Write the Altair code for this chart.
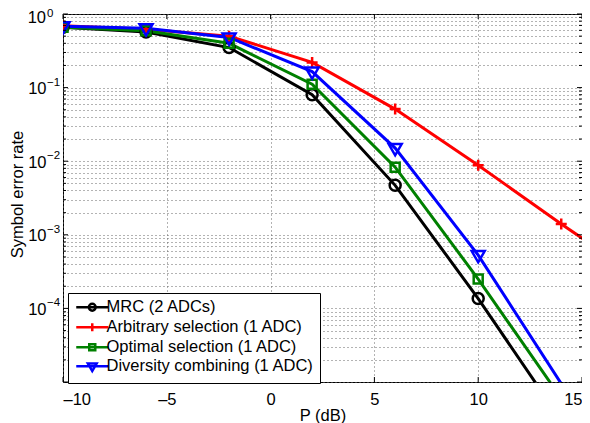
import altair as alt
import pandas as pd

# ---- data ----
P = [-10, -6, -2, 2, 6, 10, 14, 18]
series_names = ["MRC (2 ADCs)", "Arbitrary selection (1 ADC)",
                "Optimal selection (1 ADC)", "Diversity combining (1 ADC)"]
mrc = [0.66, 0.57, 0.35, 0.080, 0.0047, 1.36e-4, 3.0e-6, None]
arb = [0.69, 0.62, 0.50, 0.22, 0.051, 0.0088, 0.0014, 2.4e-4]
opt = [0.66, 0.59, 0.40, 0.111, 0.0083, 2.5e-4, 6.0e-6, None]
div = [0.68, 0.64, 0.48, 0.165, 0.0151, 5.3e-4, 9.5e-6, None]
colors = ["#000000", "#ff0000", "#008000", "#0000ff"]

x_ticks = [-10, -5, 0, 5, 10, 15]
y_decades = [1, 0.1, 0.01, 0.001, 0.0001, 0.00001]
y_inner_decades = [0.1, 0.01, 0.001, 0.0001]
y_inner_exponents = ["\u22121", "\u22122", "\u22123", "\u22124"]
y_top = [1]
y_top_exponent = ["0"]
y_minor = [k * 10.0 ** e for e in range(-5, 0) for k in range(2, 10)]

FONT = "Liberation Sans"
FS = 16.5
W, H = 519, 368

rows = []
for name, vals in zip(series_names, [mrc, arb, opt, div]):
    for p, v in zip(P, vals):
        if v is not None:
            rows.append({"P": p, "SER": v, "series": name})
df = pd.DataFrame(rows)

# marker paths (unit square coordinates)
circ = "M-1.1,0A1.1,1.1,0,1,1,1.1,0A1.1,1.1,0,1,1,-1.1,0Z"
plus = "M-1.1,0H1.1M0,-1.1V1.1"
sq = "M-0.9,-0.9H0.9V0.9H-0.9Z"
tri = "M-1.3,-0.8H1.3L0,1.45Z"
chart_shapes = [circ, plus, sq, tri]
legend_shapes = [
    "M-4,0H4M-0.85,0A0.85,0.85,0,1,1,0.85,0A0.85,0.85,0,1,1,-0.85,0Z",
    "M-4,0H4M0,-1V1",
    "M-4,0H4M-0.75,-0.75H0.75V0.75H-0.75Z",
    "M-4,0H4M-1.1,-0.7H1.1L0,1.2Z",
]

xscale = alt.Scale(domain=[-10, 15], nice=False, zero=False)
yscale = alt.Scale(type="log", domain=[1e-5, 1], nice=False)
cscale = alt.Scale(domain=series_names, range=colors)

x_enc = alt.X("P:Q", scale=xscale, axis=alt.Axis(
    values=x_ticks, title="P (dB)", grid=True, gridDash=[1, 3], gridColor="#666",
    ticks=False, domain=False, labelFont=FONT, labelFontSize=FS, labelColor="black",
    labelPadding=9, labelBaseline="top",
    labelExpr="datum.value < 0 ? '\u2013' + abs(datum.value) : datum.label",
    titleFont=FONT, titleFontSize=FS, titleFontWeight="normal", titleColor="black",
    titleBaseline="middle", titleY=33))
y_enc = alt.Y("SER:Q", scale=yscale, axis=alt.Axis(
    values=y_decades + y_minor, title="Symbol error rate", grid=True, gridDash=[1, 3],
    gridColor="#666", ticks=False, domain=False, labelFont=FONT, labelFontSize=FS,
    labelColor="black", labelPadding=17, labelBaseline="middle", labelOffset=1,
    labelExpr="indexof([0.1,0.01,0.001,0.0001], datum.value) >= 0 ? '10' : ''",
    titleFont=FONT, titleFontSize=FS, titleFontWeight="normal", titleColor="black",
    titleBaseline="middle", titleX=-46, titleY=H / 2 - 4, titleAngle=270))

base = alt.Chart(df)

lines = base.mark_line(strokeWidth=3, clip=True).encode(
    x=x_enc, y=y_enc,
    color=alt.Color("series:N", scale=cscale, legend=None),
    detail="series:N",
)

points = base.transform_filter(
    "datum.SER >= 1e-5 && datum.P <= 15"
).mark_point(filled=False, strokeWidth=2.5, size=100, opacity=1, clip=True).encode(
    x="P:Q", y="SER:Q",
    color=alt.Color("series:N", scale=cscale, legend=None),
    shape=alt.Shape("series:N", scale=alt.Scale(domain=series_names, range=chart_shapes),
                    legend=None),
)

leg_props = dict(
    title=None, orient="none", legendX=5, legendY=279,
    strokeColor="black", fillColor="white", padding=6, cornerRadius=0,
    labelFont=FONT, labelFontSize=FS, labelColor="black", labelLimit=400,
    symbolOffset=10, labelOffset=6, rowPadding=2, symbolStrokeWidth=2.5,
    symbolSize=64)

legend_layer = base.transform_filter("datum.P > 1000").mark_point(
    filled=False, strokeWidth=2.5, size=64, opacity=1, clip=True
).encode(
    x="P:Q", y="SER:Q",
    color=alt.Color("series:N", scale=cscale, legend=alt.Legend(**leg_props)),
    shape=alt.Shape("series:N", scale=alt.Scale(domain=series_names, range=legend_shapes),
                    legend=alt.Legend(**leg_props)),
)

# exponents of the y labels
exp_df = pd.DataFrame({"SER": y_inner_decades, "exp": y_inner_exponents})
exps = alt.Chart(exp_df).mark_text(
    align="left", baseline="alphabetic", font=FONT, fontSize=11.5, dy=-2, color="black"
).encode(y=alt.Y("SER:Q", scale=yscale), x=alt.value(-16), text="exp:N")

# top label 10^0 (kept inside the canvas)
top_df = pd.DataFrame({"SER": y_top, "exp": y_top_exponent, "base": ["10"]})
top_base = alt.Chart(top_df).mark_text(
    align="right", baseline="middle", font=FONT, fontSize=FS, dy=4, color="black"
).encode(y=alt.Y("SER:Q", scale=yscale), x=alt.value(-17), text="base:N")
top_exp = alt.Chart(top_df).mark_text(
    align="left", baseline="alphabetic", font=FONT, fontSize=11.5, dy=3, color="black"
).encode(y=alt.Y("SER:Q", scale=yscale), x=alt.value(-16), text="exp:N")

# inward ticks
ymaj_df = pd.DataFrame({"SER": y_decades})
ymin_df = pd.DataFrame({"SER": y_minor})
xt_df = pd.DataFrame({"P": x_ticks})


def yticks(d, ln):
    a = alt.Chart(d).mark_rule(color="black", strokeWidth=1).encode(
        y=alt.Y("SER:Q", scale=yscale), x=alt.value(0), x2=alt.value(ln))
    b = alt.Chart(d).mark_rule(color="black", strokeWidth=1).encode(
        y=alt.Y("SER:Q", scale=yscale), x=alt.value(W - ln), x2=alt.value(W))
    return [a, b]


xt1 = alt.Chart(xt_df).mark_rule(color="black", strokeWidth=1).encode(
    x=alt.X("P:Q", scale=xscale), y=alt.value(H - 5), y2=alt.value(H))
xt2 = alt.Chart(xt_df).mark_rule(color="black", strokeWidth=1).encode(
    x=alt.X("P:Q", scale=xscale), y=alt.value(0), y2=alt.value(5))

chart = alt.layer(
    lines, points, *yticks(ymaj_df, 5), *yticks(ymin_df, 3), xt1, xt2, exps,
    top_base, top_exp, legend_layer
).resolve_scale(
    shape="independent", color="independent"
).properties(
    width=W, height=H, autosize="none",
    padding={"left": 55, "top": 6, "right": 0, "bottom": 48},
    background="white",
).configure_view(
    stroke="black", strokeWidth=1
)

chart.save("out.html", embed_options={"renderer": "svg", "actions": False})
